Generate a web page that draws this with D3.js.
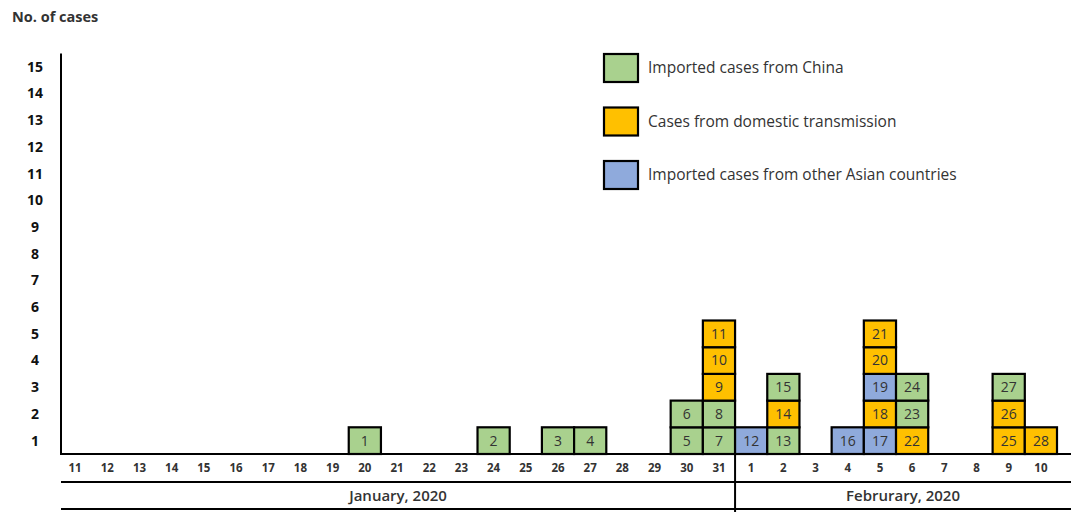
<!DOCTYPE html>
<html>
<head>
<meta charset="utf-8">
<script src="https://cdn.jsdelivr.net/npm/d3@7"></script>
<style>
  body { margin: 0; background: #fff; }
  svg { font-family: "Open Sans", "Noto Sans", sans-serif; }
</style>
</head>
<body>
<svg width="1073" height="512"></svg>
<script>
// days on the x axis
var days = ["J11","J12","J13","J14","J15","J16","J17","J18","J19","J20","J21","J22","J23","J24","J25","J26","J27","J28","J29","J30","J31",
            "F1","F2","F3","F4","F5","F6","F7","F8","F9","F10"];
var dayLabels = ["11","12","13","14","15","16","17","18","19","20","21","22","23","24","25","26","27","28","29","30","31",
                 "1","2","3","4","5","6","7","8","9","10"];
var months = ["January, 2020", "Februrary, 2020"];
var monthFirstDay = ["J11", "F1"];

// one entry per case, in case-number order
var caseNumbers = [1,2,3,4,5,6,7,8,9,10,11,12,13,14,15,16,17,18,19,20,21,22,23,24,25,26,27,28];
var caseDays = ["J20","J24","J26","J27","J30","J30","J31","J31","J31","J31","J31","F1","F2","F2","F2",
                "F4","F5","F5","F5","F5","F5","F6","F6","F6","F9","F9","F9","F10"];
var caseTypes = ["china","china","china","china","china","china","china","china","local","local","local","asia",
                 "china","local","china","asia","asia","local","asia","local","local","local","china","china",
                 "local","local","china","local"];

var legendKeys = ["china", "local", "asia"];
var legendLabels = ["Imported cases from China", "Cases from domestic transmission", "Imported cases from other Asian countries"];
var yTicks = [1,2,3,4,5,6,7,8,9,10,11,12,13,14,15];

var colors = d3.scaleOrdinal()
    .domain(legendKeys)
    .range(["#A9D18E", "#FFC000", "#8FAADC"]);

var svg = d3.select("svg");

var x = d3.scaleBand().domain(days).range([59, 1057]).padding(0);
var y = d3.scaleLinear().domain([0, 15]).range([454, 53.5]);

var axisX = 61, rightEnd = 1071;

// stack the cases per day
var counts = {};
var cells = caseNumbers.map(function (n, i) {
    var d = caseDays[i];
    counts[d] = (counts[d] || 0) + 1;
    return { num: n, day: d, type: caseTypes[i], level: counts[d] };
});

// title
svg.append("text")
    .attr("x", 12).attr("y", 22)
    .attr("font-size", 14.5).attr("font-weight", "bold")
    .attr("fill", "#333")
    .text("No. of cases");

// y tick labels (no tick marks)
svg.selectAll(".ytick")
    .data(yTicks)
    .enter().append("text")
    .attr("class", "ytick")
    .attr("x", 35)
    .attr("y", function (d) { return y(d - 0.5); })
    .attr("dy", "0.35em")
    .attr("text-anchor", "middle")
    .attr("font-size", 14).attr("font-weight", "bold")
    .attr("fill", "#111")
    .text(function (d) { return d; });

// case boxes
var boxes = svg.selectAll(".case")
    .data(cells)
    .enter().append("g")
    .attr("class", "case");

boxes.append("rect")
    .attr("x", function (d) { return x(d.day); })
    .attr("y", function (d) { return y(d.level); })
    .attr("width", x.bandwidth())
    .attr("height", function (d) { return y(d.level - 1) - y(d.level); })
    .attr("fill", function (d) { return colors(d.type); })
    .attr("stroke", "#000")
    .attr("stroke-width", 2.2);

boxes.append("text")
    .attr("x", function (d) { return x(d.day) + x.bandwidth() / 2; })
    .attr("y", function (d) { return y(d.level - 0.5); })
    .attr("dy", "0.35em")
    .attr("text-anchor", "middle")
    .attr("font-size", 14)
    .attr("fill", "#333")
    .text(function (d) { return d.num; });

// axis lines
svg.append("line")
    .attr("x1", axisX).attr("x2", axisX)
    .attr("y1", y(15)).attr("y2", y(0) + 1)
    .attr("stroke", "#000").attr("stroke-width", 2);

svg.append("line")
    .attr("x1", axisX).attr("x2", rightEnd)
    .attr("y1", y(0)).attr("y2", y(0))
    .attr("stroke", "#000").attr("stroke-width", 2);

// day labels
svg.selectAll(".xtick")
    .data(days)
    .enter().append("text")
    .attr("class", "xtick")
    .attr("x", function (d) { return x(d) + x.bandwidth() / 2; })
    .attr("y", 472)
    .attr("text-anchor", "middle")
    .attr("font-size", 11.5).attr("font-weight", "bold")
    .attr("fill", "#333")
    .text(function (d, i) { return dayLabels[i]; });

// month band
svg.append("line")
    .attr("x1", axisX).attr("x2", rightEnd)
    .attr("y1", 482).attr("y2", 482)
    .attr("stroke", "#000").attr("stroke-width", 2);

svg.append("line")
    .attr("x1", axisX).attr("x2", rightEnd)
    .attr("y1", 509).attr("y2", 509)
    .attr("stroke", "#000").attr("stroke-width", 2);

var splitX = x(monthFirstDay[1]);
svg.append("line")
    .attr("x1", splitX).attr("x2", splitX)
    .attr("y1", y(0)).attr("y2", 512)
    .attr("stroke", "#000").attr("stroke-width", 2);

svg.selectAll(".month")
    .data(months)
    .enter().append("text")
    .attr("class", "month")
    .attr("x", function (d, i) {
        var a = i === 0 ? axisX : x(monthFirstDay[i]);
        var b = i === months.length - 1 ? rightEnd : x(monthFirstDay[i + 1]);
        return (a + b) / 2;
    })
    .attr("y", 501)
    .attr("text-anchor", "middle")
    .attr("font-size", 15).attr("font-weight", 600)
    .attr("fill", "#333")
    .text(function (d) { return d; });

// legend
var legend = svg.selectAll(".legend")
    .data(legendKeys)
    .enter().append("g")
    .attr("class", "legend")
    .attr("transform", function (d, i) { return "translate(604," + (54 + i * 53.5) + ")"; });

legend.append("rect")
    .attr("width", 34).attr("height", 28)
    .attr("fill", function (d) { return colors(d); })
    .attr("stroke", "#000").attr("stroke-width", 2.2);

legend.append("text")
    .attr("x", 44).attr("y", 14)
    .attr("dy", "0.35em")
    .attr("font-size", 15.5)
    .attr("fill", "#333")
    .text(function (d, i) { return legendLabels[i]; });
</script>
</body>
</html>
